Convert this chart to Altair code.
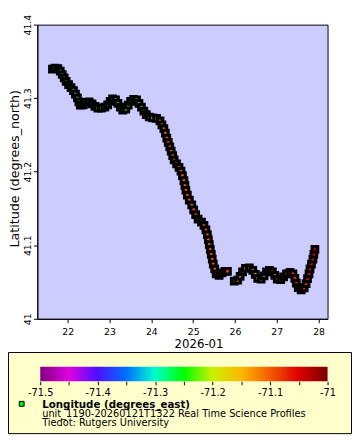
import altair as alt
import pandas as pd

# ---- glider track (day of Jan 2026, latitude, longitude) ----
day = [21.635, 21.694, 21.764, 21.822, 21.869, 21.916, 21.963, 22.021, 22.080, 22.138,
       22.185, 22.231, 22.267, 22.302, 22.372, 22.442, 22.512, 22.582, 22.652, 22.722,
       22.804, 22.886, 22.956, 23.015, 23.073, 23.143, 23.202, 23.260, 23.318, 23.389,
       23.447, 23.505, 23.576, 23.646, 23.704, 23.763, 23.821, 23.879, 23.950, 24.031,
       24.125, 24.207, 24.253, 24.300, 24.335, 24.370, 24.405, 24.440, 24.475, 24.511,
       24.546, 24.604, 24.662, 24.709, 24.744, 24.779, 24.803, 24.826, 24.861, 24.908,
       24.966, 25.013, 25.060, 25.118, 25.200, 25.259, 25.305, 25.340, 25.364, 25.387,
       25.410, 25.434, 25.457, 25.481, 25.516, 25.551, 25.621, 25.691, 25.761, 25.820,
       25.983, 26.065, 26.123, 26.182, 26.252, 26.346, 26.427, 26.486, 26.544, 26.626,
       26.696, 26.755, 26.825, 26.895, 26.953, 27.012, 27.094, 27.164, 27.234, 27.316,
       27.386, 27.432, 27.468, 27.514, 27.584, 27.655, 27.701, 27.736, 27.771, 27.795,
       27.830, 27.865, 27.888, 27.912]
lat = [41.3395, 41.3409, 41.3402, 41.3369, 41.3322, 41.3276, 41.3229, 41.3183, 41.3143, 41.3103,
       41.3056, 41.3003, 41.2950, 41.2904, 41.2910, 41.2944, 41.2950, 41.2924, 41.2890, 41.2864,
       41.2864, 41.2877, 41.2910, 41.2957, 41.2990, 41.2977, 41.2930, 41.2877, 41.2837, 41.2851,
       41.2904, 41.2957, 41.2983, 41.2977, 41.2930, 41.2877, 41.2824, 41.2777, 41.2744, 41.2731,
       41.2724, 41.2691, 41.2638, 41.2585, 41.2525, 41.2458, 41.2399, 41.2339, 41.2279, 41.2219,
       41.2160, 41.2106, 41.2060, 41.2007, 41.1947, 41.1880, 41.1814, 41.1748, 41.1681, 41.1615,
       41.1548, 41.1482, 41.1415, 41.1355, 41.1316, 41.1269, 41.1209, 41.1143, 41.1076, 41.1010,
       41.0944, 41.0877, 41.0811, 41.0744, 41.0678, 41.0611, 41.0591, 41.0625, 41.0645, 41.0645,
       41.0512, 41.0525, 41.0578, 41.0638, 41.0684, 41.0691, 41.0658, 41.0605, 41.0551, 41.0538,
       41.0585, 41.0638, 41.0658, 41.0638, 41.0591, 41.0538, 41.0532, 41.0571, 41.0611, 41.0631,
       41.0611, 41.0551, 41.0485, 41.0425, 41.0392, 41.0419, 41.0478, 41.0545, 41.0611, 41.0678,
       41.0744, 41.0811, 41.0877, 41.0944]
lon = [-71.300, -71.299, -71.298, -71.296, -71.296, -71.295, -71.293, -71.293, -71.292, -71.290,
       -71.290, -71.289, -71.287, -71.287, -71.285, -71.284, -71.282, -71.282, -71.281, -71.279,
       -71.279, -71.278, -71.276, -71.276, -71.275, -71.273, -71.273, -71.272, -71.270, -71.270,
       -71.269, -71.267, -71.267, -71.266, -71.264, -71.264, -71.262, -71.240, -71.210, -71.170,
       -71.150, -71.130, -71.115, -71.105, -71.100, -71.098, -71.102, -71.100, -71.097, -71.100,
       -71.103, -71.100, -71.098, -71.100, -71.102, -71.099, -71.100, -71.097, -71.100, -71.101,
       -71.098, -71.100, -71.099, -71.097, -71.100, -71.102, -71.098, -71.096, -71.100, -71.098,
       -71.095, -71.100, -71.097, -71.095, -71.100, -71.098, -71.094, -71.092, -71.090, -71.088,
       -71.120, -71.130, -71.120, -71.110, -71.115, -71.120, -71.130, -71.130, -71.140, -71.130,
       -71.135, -71.130, -71.120, -71.130, -71.135, -71.130, -71.120, -71.110, -71.090, -71.085,
       -71.080, -71.080, -71.075, -71.070, -71.070, -71.065, -71.065, -71.060, -71.060, -71.055,
       -71.055, -71.050, -71.050, -71.045]
seg = [1] * 80 + [2] * 34

# ---- colour bar (Longitude, degrees_east) ----
cbar_values = [-71.5, -71.45, -71.4, -71.35, -71.3, -71.25, -71.2, -71.15, -71.1, -71.05, -71.0]
cbar_colors = ["#800080", "#e000e0", "#4a10ff", "#0070ff", "#00ffcc", "#00ff00",
               "#ccf000", "#fcb800", "#f45a00", "#dd0000", "#780000"]
cbar_ticks = [-71.5, -71.45, -71.4, -71.35, -71.3, -71.25, -71.2, -71.15, -71.1, -71.05, -71.0]

x_tick_days = [22, 23, 24, 25, 26, 27, 28]
x_domain_days = [21.273, 28.215]
y_ticks = [41.0, 41.1, 41.2, 41.3, 41.4]
y_domain = [41.0, 41.4]

legend_title = "Longitude (degrees_east)"
legend_lines = ["unit_1190-20260121T1322 Real Time Science Profiles",
                "Tiedot: Rutgers University"]
x_title = "2026-01"
y_title = "Latitude (degrees_north)"

FONT = "DejaVu Sans"
T0 = pd.Timestamp("2026-01-01", tz="UTC")


def ms(d):
    return int((T0 + pd.Timedelta(days=d - 1)).timestamp() * 1000)


def iso(d):
    return (T0 + pd.Timedelta(days=d - 1)).strftime("%Y-%m-%dT%H:%M:%SZ")


df = pd.DataFrame({"time": [iso(d) for d in day], "lat": lat, "lon": lon, "seg": seg})

xscale = alt.Scale(type="utc", domain=[ms(d) for d in x_domain_days], nice=False)
yscale = alt.Scale(domain=y_domain, nice=False, zero=False)
xaxis = alt.Axis(values=[ms(d) for d in x_tick_days], labelExpr="utcFormat(datum.value, '%d')",
                 labelFontSize=9.5, labelPadding=4, tickSize=4, grid=False,
                 title=x_title, titleFontSize=12, titleFontWeight="normal",
                 titleX=165, titleY=29, titleAlign="center", titleBaseline="alphabetic")
yaxis = alt.Axis(values=y_ticks, format="~g", labelAngle=270, labelAlign="center",
                 labelBaseline="alphabetic", labelPadding=3, labelFontSize=9.5,
                 tickSize=4, grid=False, title=y_title, titleFontSize=13,
                 titleFontWeight="normal", titleAngle=270, titleX=-19.5, titleY=147,
                 titleAlign="center", titleBaseline="alphabetic")

xenc = alt.X("time:T", scale=xscale, axis=xaxis)
yenc = alt.Y("lat:Q", scale=yscale, axis=yaxis)

color_scale = alt.Scale(domain=cbar_values, range=cbar_colors, interpolate="rgb")

line = alt.Chart(df).mark_line(color="black", strokeWidth=6, strokeCap="square").encode(
    x=xenc, y=yenc, detail="seg:N")
pts = alt.Chart(df).mark_square(size=33, filled=True, stroke="black", strokeWidth=3.2,
                                opacity=1).encode(
    x=xenc, y=yenc, color=alt.Color("lon:Q", scale=color_scale, legend=None))
track = alt.layer(line, pts)

one = pd.DataFrame({"k": [0]})
box = alt.Chart(one).mark_rect(fill="#FFFFCC", stroke="black", strokeWidth=1).encode(
    x=alt.value(-29.5), x2=alt.value(321.5), y=alt.value(335.5), y2=alt.value(418.5))

vmin, vmax = min(cbar_values), max(cbar_values)
grad = alt.Gradient(gradient="linear", x1=0, x2=1, y1=0, y2=0,
                    stops=[alt.GradientStop(color=c, offset=(v - vmin) / (vmax - vmin))
                           for v, c in zip(cbar_values, cbar_colors)])
cb_df = pd.DataFrame({"lo": [vmin], "hi": [vmax]})
cbar = alt.Chart(cb_df).mark_rect(fill=grad).encode(
    x=alt.X("lo:Q", scale=alt.Scale(domain=[vmin, vmax], range=[3, 297], nice=False, zero=False),
            axis=alt.Axis(orient="bottom", offset=64, domain=False, ticks=True, tickSize=3.5,
                          values=cbar_ticks, grid=False, title=None, labelFontSize=10,
                          labelPadding=2.5, zindex=2, labelFlush=False, labelOverlap=False,
                          labelExpr="abs(datum.value*10 - round(datum.value*10)) < 0.001 ? replace(format(datum.value, '~g'), '\u2212', '-') : ''")),
    x2="hi:Q", y=alt.value(350), y2=alt.value(365))

marker = alt.Chart(one).mark_rect(fill="#00ee00", stroke="black", strokeWidth=1).encode(
    x=alt.value(-18.5), x2=alt.value(-13.5), y=alt.value(385.5), y2=alt.value(390.5))
t1 = alt.Chart(one).mark_text(align="left", baseline="alphabetic", font=FONT, fontSize=10.5,
                              fontWeight="bold", color="black").encode(
    x=alt.value(5), y=alt.value(392), text=alt.value(legend_title))
t2 = alt.Chart(one).mark_text(align="left", baseline="alphabetic", font=FONT, fontSize=10,
                              lineHeight=9.5, color="black").encode(
    x=alt.value(5), y=alt.value(401), text=alt.value(legend_lines))

chart = alt.layer(box, track, cbar, marker, t1, t2).resolve_scale(x="independent").properties(
    width=297, height=301, autosize=alt.AutoSizeParams(type="none"),
    padding={"left": 30, "top": 12, "right": 25, "bottom": 119},
).configure_view(fill="#CCCCFF", stroke="black", strokeWidth=1).configure_axis(
    domainColor="black", tickColor="black", labelColor="black", titleColor="black",
    labelFont=FONT, titleFont=FONT, domainWidth=1, tickWidth=1)

chart.save("out.html", embed_options={"renderer": "svg", "actions": False})
